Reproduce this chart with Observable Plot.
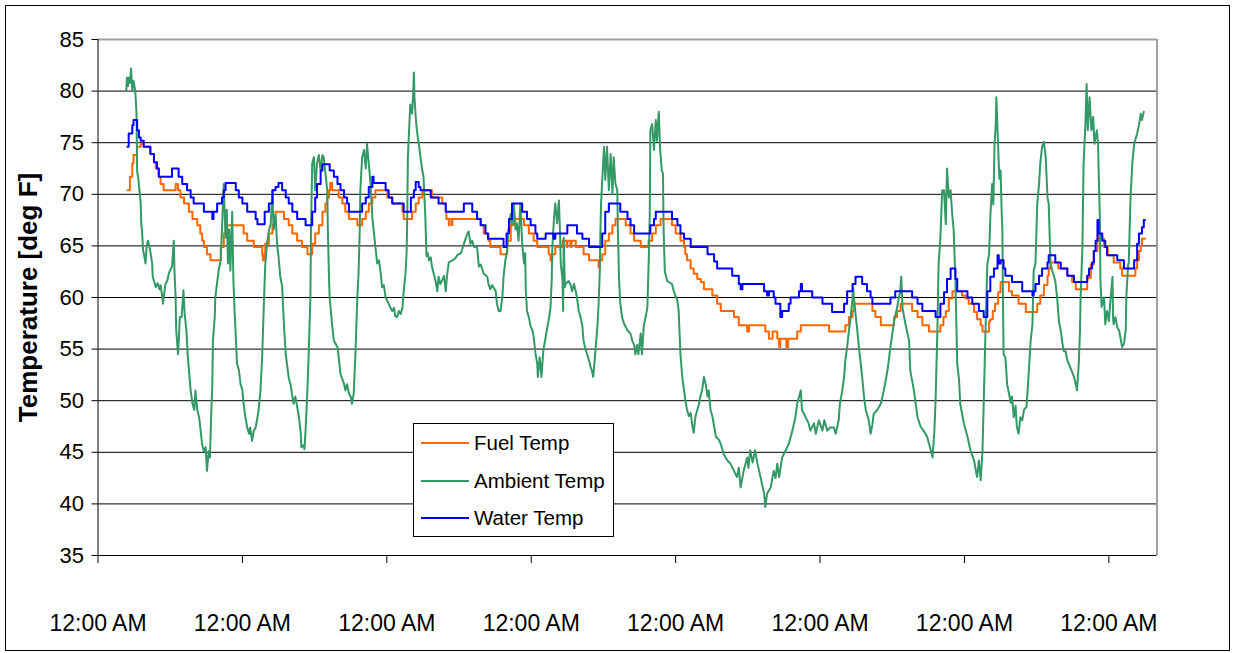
<!DOCTYPE html>
<html><head><meta charset="utf-8">
<script src="https://cdn.jsdelivr.net/npm/d3@7"></script>
<script src="https://cdn.jsdelivr.net/npm/@observablehq/plot@0.6"></script>
<style>
body{margin:0;background:#fff;font-family:"Liberation Sans",Arial,sans-serif;}
#wrap{position:relative;width:1233px;height:653px;overflow:hidden;}
#border{position:absolute;left:5px;top:5px;width:1223px;height:644px;border:1px solid #000;pointer-events:none;}
#legend{position:absolute;left:413px;top:423px;width:201px;height:114px;box-sizing:border-box;border:1px solid #000;background:#fff;}
.row{position:absolute;left:0;height:24px;line-height:24px;font-size:20.5px;color:#000;}
.sw{position:absolute;left:7px;top:11px;width:48px;height:0;border-top:2px solid;}
.lab{position:absolute;left:60px;top:0;white-space:nowrap;}
</style></head>
<body>
<div id="wrap"><div id="chart"></div><div id="legend"></div><div id="border"></div></div>
<script>
// ---- data (hours since first midnight, deg F) ----
const seriesNames = ["Fuel Temp", "Ambient Temp", "Water Temp"];
const seriesColors = ["#FF6600", "#339966", "#0000FF"];
const yTicks = [35, 40, 45, 50, 55, 60, 65, 70, 75, 80, 85];
const xTicks = [0, 24, 48, 72, 96, 120, 144, 168];
const xTickLabel = "12:00 AM";
const yLabel = "Temperature [deg F]";

const fuel = [[4.9,70.4],[5.3,71.7],[5.7,73.0],[5.9,73.8],[6.5,74.6],[7.1,74.9],[7.6,74.6],[8.7,73.9],[9.3,73.1],[9.6,72.5],[10.1,71.7],[10.4,71.0],[10.9,70.4],[12.9,71.0],[13.3,70.4],[13.7,69.7],[14.3,69.1],[15.1,68.3],[15.7,67.6],[16.5,67.0],[17.0,66.2],[17.3,65.5],[17.6,64.9],[18.1,64.2],[18.7,63.6],[20.4,64.9],[20.9,66.2],[21.2,67.0],[24.2,66.2],[24.8,65.5],[25.9,64.9],[27.3,64.2],[27.4,63.6],[27.6,64.2],[27.8,65.2],[28.4,66.2],[29.0,67.1],[29.5,68.3],[30.9,67.6],[31.7,67.0],[32.3,66.2],[33.1,65.5],[33.9,64.9],[34.8,64.2],[35.6,65.2],[36.1,66.2],[36.7,67.0],[37.3,68.3],[37.8,69.1],[38.1,69.7],[38.4,70.4],[38.6,71.1],[38.9,70.4],[40.0,69.7],[40.6,69.1],[41.1,68.3],[41.7,67.6],[43.1,67.0],[43.9,67.6],[44.5,68.3],[45.0,69.1],[45.6,69.7],[46.1,70.4],[48.1,69.7],[48.9,69.1],[50.6,68.3],[50.8,67.6],[52.2,68.3],[52.8,69.1],[53.3,69.7],[53.9,70.4],[55.5,69.7],[57.2,69.1],[57.8,68.3],[57.9,67.6],[58.3,67.0],[58.4,67.6],[58.8,67.0],[58.9,67.6],[63.6,67.0],[64.1,66.2],[64.9,65.5],[65.2,64.9],[66.9,64.2],[68.0,65.5],[68.6,67.0],[69.1,67.6],[70.8,67.0],[71.6,66.2],[72.4,65.5],[73.0,64.9],[74.9,64.2],[75.2,63.6],[75.5,64.2],[76.0,64.9],[77.2,65.5],[77.9,64.9],[78.0,65.5],[78.5,64.9],[78.7,65.5],[79.4,64.9],[80.7,64.2],[81.6,63.6],[83.2,62.9],[83.4,63.6],[83.8,64.2],[84.3,65.5],[84.9,66.2],[85.5,67.0],[86.0,67.6],[87.7,67.0],[88.5,66.2],[89.1,65.5],[90.2,64.9],[91.5,65.5],[92.1,66.2],[92.7,67.0],[93.5,67.6],[95.4,67.0],[96.0,66.2],[96.8,65.5],[97.4,64.9],[97.6,64.2],[97.9,63.6],[98.5,62.8],[99.0,62.3],[99.6,61.8],[100.2,61.5],[100.7,60.8],[102.1,60.2],[102.9,59.4],[103.5,58.7],[105.7,58.1],[106.5,57.3],[107.9,56.7],[108.2,57.3],[110.9,56.7],[111.5,56.0],[112.1,56.7],[112.9,56.0],[113.2,55.2],[113.4,56.0],[114.4,55.2],[114.7,56.0],[116.2,56.7],[116.8,57.3],[121.5,56.7],[124.2,57.3],[124.8,58.1],[125.4,58.7],[125.6,59.4],[128.7,58.7],[129.2,58.1],[130.1,57.3],[132.3,58.1],[132.8,58.7],[133.4,59.4],[135.3,58.7],[136.2,58.1],[137.0,57.3],[138.1,56.7],[140.0,57.3],[140.5,58.1],[140.9,58.7],[141.4,59.9],[142.0,60.6],[143.6,60.2],[144.2,59.9],[144.7,59.4],[145.6,58.6],[146.1,57.9],[146.7,57.3],[147.0,56.7],[148.1,57.7],[148.3,57.9],[148.7,58.7],[149.1,59.4],[149.6,60.5],[150.0,61.5],[151.4,60.6],[151.9,60.2],[153.0,59.4],[154.2,58.6],[156.1,59.4],[156.6,60.2],[157.2,61.2],[157.8,62.1],[158.0,62.8],[158.3,63.4],[159.6,62.8],[161.1,62.1],[161.9,61.5],[162.5,60.8],[164.4,61.9],[165.0,63.2],[165.5,64.5],[166.1,65.5],[166.3,66.0],[166.9,65.7],[167.2,64.9],[167.8,64.1],[168.8,63.4],[169.9,62.8],[170.2,62.1],[172.4,62.8],[172.7,63.6],[173.0,64.5],[173.3,65.0],[173.5,65.7],[174.0,65.7]];

const ambient = [[4.7,80.0],[4.8,81.3],[5.0,80.5],[5.1,81.3],[5.3,80.8],[5.5,82.2],[5.7,80.0],[5.9,81.0],[6.2,80.0],[6.4,77.8],[6.5,72.3],[6.7,71.5],[7.1,69.1],[7.2,67.0],[7.3,66.6],[7.5,64.5],[7.6,64.3],[7.9,63.3],[8.1,65.0],[8.3,65.5],[8.6,64.8],[9.0,63.3],[9.1,62.0],[9.3,61.6],[9.6,61.0],[9.9,61.4],[10.2,60.8],[10.4,61.2],[10.7,60.0],[10.8,59.4],[11.2,61.3],[11.5,61.6],[11.8,62.4],[12.3,63.0],[12.6,65.5],[12.7,62.7],[12.9,60.0],[13.0,56.8],[13.3,54.5],[13.4,55.6],[13.6,58.1],[13.9,58.1],[14.2,60.7],[14.4,58.4],[14.7,56.8],[14.9,54.5],[15.3,51.6],[15.4,51.0],[15.7,49.7],[16.0,49.1],[16.2,51.0],[16.5,49.1],[16.8,48.4],[17.0,47.4],[17.3,45.8],[17.6,45.1],[17.9,45.5],[18.1,43.2],[18.4,45.1],[18.6,44.5],[18.8,48.4],[19.0,51.6],[19.1,55.8],[19.4,58.1],[19.5,60.0],[19.8,61.5],[20.1,62.8],[20.4,63.6],[20.6,66.6],[20.9,71.0],[21.2,65.8],[21.4,68.5],[21.6,63.3],[21.8,66.6],[22.0,62.6],[22.3,68.3],[22.5,61.7],[22.7,58.7],[22.9,56.2],[23.1,53.6],[23.4,53.0],[23.7,51.6],[24.0,51.0],[24.2,49.7],[24.5,48.4],[24.8,47.4],[25.1,46.8],[25.3,47.4],[25.6,46.1],[25.9,47.1],[26.2,47.4],[26.5,48.4],[26.7,49.1],[27.0,51.0],[27.3,54.5],[27.6,60.0],[27.8,63.2],[28.1,65.2],[28.4,66.5],[28.7,67.1],[29.0,70.4],[29.1,68.0],[29.2,66.6],[29.5,68.0],[29.8,64.9],[30.0,64.0],[30.3,62.0],[30.6,61.1],[30.9,57.4],[31.2,54.5],[31.4,53.6],[31.7,52.2],[32.0,51.6],[32.3,50.4],[32.5,49.7],[32.8,50.4],[33.1,49.4],[33.4,48.4],[33.7,46.8],[33.8,45.5],[34.2,45.7],[34.3,45.3],[34.5,47.1],[34.8,51.0],[35.0,54.2],[35.3,60.0],[35.4,66.6],[35.6,73.0],[35.9,73.6],[36.1,70.4],[36.4,73.0],[36.7,73.8],[37.0,72.3],[37.3,73.8],[37.5,73.6],[37.8,72.0],[38.1,70.4],[38.2,66.6],[38.4,61.7],[38.5,60.0],[38.9,57.4],[39.2,55.8],[39.8,55.2],[40.0,54.2],[40.3,52.6],[40.9,51.6],[41.1,51.0],[41.4,51.6],[41.7,50.7],[42.0,50.4],[42.2,49.7],[42.5,50.7],[42.8,54.8],[43.1,60.0],[43.3,62.3],[43.5,66.6],[43.6,70.4],[43.9,73.6],[44.2,74.3],[44.5,72.5],[44.7,74.9],[45.0,73.0],[45.3,71.0],[45.6,67.7],[45.8,66.6],[46.1,64.9],[46.4,63.3],[46.7,63.6],[47.0,62.3],[47.2,61.0],[47.5,61.2],[47.8,60.0],[48.3,59.4],[48.6,59.0],[48.9,58.7],[49.2,59.0],[49.4,58.2],[49.7,58.1],[50.0,58.7],[50.3,58.4],[50.6,59.0],[50.8,60.6],[51.1,62.3],[51.3,64.5],[51.4,68.0],[51.5,73.6],[51.7,76.2],[51.9,78.7],[52.2,77.8],[52.4,80.0],[52.5,81.8],[52.6,79.4],[52.8,77.5],[53.0,76.2],[53.3,74.9],[53.6,73.6],[53.9,72.3],[54.1,71.7],[54.4,67.8],[54.6,64.0],[54.8,64.3],[55.0,63.6],[55.3,63.9],[55.5,63.0],[55.8,62.3],[56.1,61.6],[56.4,60.6],[56.6,62.0],[56.9,61.3],[57.5,62.1],[57.8,60.6],[58.0,62.1],[58.3,63.4],[58.9,63.6],[59.4,63.8],[59.7,64.1],[60.3,64.3],[60.5,64.6],[60.8,65.2],[61.1,65.7],[61.4,66.2],[61.6,66.4],[61.9,65.2],[62.2,65.5],[62.5,64.9],[63.0,64.9],[63.3,63.0],[63.6,63.2],[64.1,62.3],[64.7,62.0],[64.9,61.3],[65.2,60.8],[65.5,61.2],[66.1,60.6],[66.3,59.4],[66.6,58.7],[66.9,58.7],[67.2,60.0],[67.4,62.0],[67.7,63.6],[68.0,64.5],[68.2,66.5],[68.6,68.1],[68.8,67.0],[69.1,69.1],[69.4,66.6],[69.6,67.2],[69.9,65.5],[70.2,69.1],[70.5,65.2],[70.8,63.3],[71.0,64.3],[71.1,60.7],[71.3,58.7],[71.6,58.1],[71.9,57.2],[72.2,56.8],[72.4,56.2],[72.7,54.6],[73.0,53.6],[73.1,52.3],[73.4,54.2],[73.7,52.3],[74.0,54.8],[74.4,56.2],[74.7,57.2],[74.9,57.8],[75.2,59.0],[75.4,61.6],[75.5,64.8],[75.8,67.8],[76.0,69.1],[76.3,67.2],[76.6,69.4],[76.8,66.0],[76.9,63.3],[77.2,61.7],[77.3,58.7],[77.4,65.8],[77.6,61.0],[77.7,61.3],[78.2,61.6],[78.5,61.3],[78.8,60.6],[79.1,61.3],[79.4,60.6],[79.6,60.0],[79.9,58.7],[80.2,58.1],[80.5,57.2],[80.7,55.8],[81.0,55.0],[81.3,54.5],[81.6,53.9],[81.9,53.2],[82.1,52.9],[82.3,52.3],[82.5,53.6],[82.7,55.1],[83.0,57.2],[83.2,59.4],[83.4,62.6],[83.5,66.5],[83.6,69.0],[83.8,71.4],[84.1,74.6],[84.3,71.4],[84.6,74.6],[84.9,70.4],[85.2,73.9],[85.5,70.0],[85.7,73.6],[86.0,71.0],[86.3,70.4],[86.4,66.6],[86.6,61.7],[86.7,60.6],[86.8,59.4],[87.1,58.1],[87.4,57.5],[88.0,56.8],[88.5,56.5],[88.8,55.8],[89.1,55.4],[89.3,54.5],[89.6,55.4],[89.8,54.5],[90.2,56.5],[90.4,54.5],[90.7,57.2],[91.0,58.1],[91.3,59.0],[91.5,63.0],[91.7,68.0],[91.8,76.2],[92.1,76.8],[92.4,74.3],[92.7,77.2],[92.9,75.2],[93.2,78.0],[93.4,74.6],[93.6,73.0],[93.7,72.3],[93.9,72.0],[94.0,66.6],[94.2,62.5],[94.3,62.3],[94.6,61.6],[95.4,61.3],[95.7,60.6],[96.3,59.7],[96.5,58.7],[96.8,54.5],[97.1,52.3],[97.4,51.0],[97.6,50.1],[97.9,49.1],[98.2,48.5],[98.5,48.8],[98.8,47.5],[99.0,46.9],[99.3,48.5],[99.6,49.1],[99.9,49.7],[100.1,50.4],[100.4,51.0],[100.7,52.3],[101.0,51.6],[101.3,50.4],[101.5,51.0],[101.8,49.1],[102.1,48.5],[102.4,47.5],[102.7,46.5],[103.2,46.2],[103.5,45.8],[104.0,44.8],[104.6,44.2],[105.1,43.9],[105.7,43.2],[106.2,42.6],[106.5,43.5],[106.8,41.6],[107.3,43.2],[107.9,44.5],[108.1,43.5],[108.4,45.2],[108.8,44.0],[109.2,45.2],[109.6,43.9],[110.1,42.6],[110.7,41.0],[110.9,39.7],[111.2,41.0],[111.8,41.6],[112.3,43.2],[112.6,42.5],[112.9,43.9],[113.2,42.6],[113.7,44.5],[114.3,45.2],[114.8,45.8],[115.4,47.1],[115.9,48.4],[116.2,49.7],[116.8,51.0],[117.0,49.1],[117.6,48.4],[118.1,47.8],[118.4,47.1],[119.0,47.8],[119.3,46.8],[119.8,48.1],[120.4,47.1],[120.7,48.1],[121.2,47.1],[121.7,47.4],[122.3,47.4],[122.6,46.8],[123.1,48.1],[123.3,49.7],[123.7,51.0],[124.0,52.3],[124.2,53.9],[124.5,55.2],[124.8,56.8],[125.1,58.1],[125.4,60.0],[125.5,61.0],[125.6,60.2],[125.9,58.4],[126.2,56.8],[126.4,55.5],[126.7,53.9],[127.0,52.3],[127.3,50.4],[127.6,49.1],[128.1,48.1],[128.4,46.8],[128.7,47.7],[128.9,48.7],[129.5,49.1],[130.1,49.7],[130.6,51.0],[131.2,52.9],[131.7,55.2],[132.3,57.7],[132.8,59.0],[133.1,60.0],[133.3,60.5],[133.5,62.0],[133.7,59.0],[134.2,57.4],[134.8,55.8],[135.0,52.9],[135.6,51.0],[136.2,48.4],[136.7,47.5],[137.2,47.1],[137.8,46.5],[138.4,45.2],[138.7,44.5],[139.0,47.1],[139.2,50.0],[139.5,56.8],[139.7,63.2],[140.0,65.8],[140.3,70.4],[140.6,70.4],[140.9,67.1],[141.1,72.5],[141.4,69.7],[141.7,70.4],[142.0,67.8],[142.2,66.6],[142.5,61.7],[142.8,53.6],[143.1,52.0],[143.3,49.7],[143.9,47.8],[144.5,46.5],[145.0,45.2],[145.6,44.2],[145.8,43.5],[146.1,42.6],[146.4,44.2],[146.7,42.3],[147.0,45.2],[147.2,49.7],[147.5,56.8],[147.8,63.2],[148.1,64.2],[148.3,67.8],[148.6,71.0],[148.8,69.0],[149.0,74.9],[149.2,76.8],[149.3,79.4],[149.5,76.2],[149.7,73.0],[149.8,71.5],[150.0,72.3],[150.2,68.0],[150.3,66.6],[150.4,60.0],[150.5,54.5],[150.8,54.2],[151.1,51.6],[151.4,50.7],[151.7,49.8],[151.9,50.4],[152.2,48.4],[152.5,49.5],[152.7,47.5],[153.0,46.8],[153.3,48.4],[153.6,48.1],[153.9,49.1],[154.3,49.4],[154.5,51.0],[154.7,52.9],[155.0,55.8],[155.3,57.4],[155.5,62.6],[155.8,63.3],[156.1,69.1],[156.4,71.0],[156.6,73.0],[156.9,74.6],[157.2,75.1],[157.5,73.6],[157.6,72.3],[157.8,69.7],[158.0,69.1],[158.3,63.3],[158.6,62.6],[159.1,61.6],[159.4,60.0],[159.7,57.7],[160.0,56.8],[160.3,55.5],[160.5,54.8],[160.8,54.8],[161.1,53.9],[161.6,53.2],[162.2,52.3],[162.5,51.6],[162.7,51.0],[163.0,53.6],[163.2,56.8],[163.3,60.0],[163.6,64.8],[163.8,73.0],[164.1,76.8],[164.3,80.7],[164.5,76.2],[164.8,79.4],[165.1,76.2],[165.4,77.5],[165.6,74.9],[166.0,76.2],[166.2,74.9],[166.3,72.3],[166.5,67.8],[166.6,61.7],[166.8,59.1],[167.2,60.0],[167.4,57.4],[167.7,58.7],[168.0,57.7],[168.3,60.0],[168.6,62.0],[168.7,58.0],[168.8,57.4],[169.1,58.1],[169.4,57.1],[169.7,56.8],[169.9,56.2],[170.2,55.2],[170.5,55.5],[170.8,56.8],[170.9,60.0],[171.2,63.2],[171.3,63.3],[171.6,69.7],[171.9,73.0],[172.2,74.9],[172.7,75.9],[173.0,76.7],[173.3,77.8],[173.5,77.2],[173.8,78.0]];

const water = [[4.9,74.6],[5.1,75.9],[5.7,76.7],[5.9,77.2],[6.5,76.2],[6.8,75.5],[7.1,75.2],[7.6,74.6],[8.7,73.9],[9.3,73.1],[9.8,72.5],[10.1,71.7],[12.3,72.5],[13.4,71.7],[14.0,71.0],[14.8,70.4],[15.4,69.7],[15.9,69.1],[17.6,68.3],[19.0,67.6],[19.2,68.3],[19.8,69.1],[20.6,69.7],[20.9,70.4],[21.2,71.1],[22.9,70.4],[23.4,69.7],[24.0,69.1],[24.8,68.3],[26.2,67.6],[26.5,67.1],[27.7,68.3],[28.4,69.1],[29.0,70.4],[29.5,70.7],[30.0,71.1],[30.6,70.4],[31.2,69.7],[31.7,69.1],[32.3,68.3],[33.1,67.6],[34.5,67.0],[35.6,68.3],[36.1,69.7],[36.4,71.0],[37.0,72.3],[37.3,72.9],[38.5,72.3],[39.2,71.7],[39.8,71.0],[40.3,70.4],[40.9,69.7],[41.4,69.1],[41.7,68.3],[43.9,69.1],[44.5,69.7],[45.0,70.7],[45.6,71.7],[45.8,71.1],[47.8,70.4],[48.3,69.7],[48.9,69.1],[50.8,68.3],[52.0,69.7],[52.5,70.4],[52.8,71.2],[53.3,70.7],[53.6,70.4],[55.3,69.7],[56.6,69.1],[57.8,68.3],[60.8,69.1],[62.2,68.3],[63.0,67.6],[63.6,67.0],[64.4,66.2],[64.8,65.7],[67.4,64.9],[67.9,66.2],[68.3,67.6],[68.8,69.1],[70.5,68.3],[71.3,67.6],[71.9,67.0],[72.7,66.2],[73.0,65.7],[74.4,66.2],[75.7,65.7],[76.0,66.2],[78.0,67.0],[79.6,66.2],[80.5,65.7],[81.6,64.9],[83.8,66.2],[84.3,68.3],[84.9,69.1],[86.8,68.3],[88.0,67.6],[88.5,67.0],[89.1,66.2],[91.8,67.0],[92.4,67.6],[92.7,68.3],[95.4,67.6],[96.3,67.0],[96.8,66.2],[97.4,65.7],[98.5,64.9],[101.3,64.2],[102.4,63.5],[102.9,62.8],[105.4,62.1],[106.5,61.3],[106.8,60.8],[107.1,61.3],[110.7,60.6],[111.2,60.2],[111.5,60.6],[112.3,60.0],[112.6,59.4],[113.4,58.1],[113.7,58.7],[114.8,59.4],[115.1,60.0],[116.5,60.6],[116.8,61.3],[117.0,60.6],[118.7,60.0],[120.4,59.4],[122.0,58.6],[124.0,59.4],[124.5,60.6],[125.4,61.3],[125.9,62.0],[127.0,61.3],[127.8,60.6],[128.4,60.0],[128.7,59.4],[131.7,60.0],[132.5,60.6],[135.3,60.0],[136.2,59.4],[137.0,58.7],[139.2,58.1],[140.0,59.4],[140.6,60.5],[141.1,61.8],[141.7,62.8],[142.5,61.8],[142.8,60.6],[144.5,60.0],[145.3,59.4],[146.4,58.7],[147.2,58.1],[147.8,60.6],[148.3,62.0],[148.9,62.8],[149.5,64.1],[149.7,63.3],[150.0,63.6],[150.5,62.8],[150.8,62.1],[151.9,61.5],[153.6,60.6],[155.3,60.2],[155.5,60.6],[155.8,61.3],[156.4,62.1],[156.9,62.8],[157.8,63.4],[158.0,64.1],[159.1,63.4],[160.0,62.8],[161.1,62.1],[162.2,61.5],[164.4,62.1],[164.7,62.8],[165.2,63.4],[165.5,64.5],[165.8,65.5],[166.1,67.5],[166.3,66.2],[166.9,65.5],[167.4,64.9],[167.7,64.1],[169.4,63.6],[170.5,62.8],[172.2,63.6],[172.7,65.2],[173.0,66.2],[173.5,66.8],[173.8,67.5],[174.0,67.5]];

const toRows = arr => arr.map(([h, v]) => ({h, v}));

const FONT = "'Liberation Sans', Arial, sans-serif";
const chart = Plot.plot({
  width: 1233, height: 653,
  marginLeft: 97.5, marginRight: 76.5, marginTop: 39, marginBottom: 98,
  style: {fontFamily: FONT, fontSize: "22px", color: "#000", background: "transparent", overflow: "visible"},
  x: {domain: [0, 176], label: null},
  y: {domain: [35, 85], label: null},
  marks: [
    Plot.ruleY(yTicks.filter(d => d > 35 && d < 85), {stroke: "#000", strokeWidth: 1}),
    Plot.ruleY([85], {stroke: "#a0a0a0", strokeWidth: 2}),
    Plot.ruleX([176], {stroke: "#a0a0a0", strokeWidth: 2}),
    Plot.ruleX([0], {stroke: "#000", strokeWidth: 1}),
    Plot.ruleY([35], {stroke: "#000", strokeWidth: 1}),
    Plot.axisY({ticks: yTicks, tickSize: 6, tickPadding: 8, label: null, stroke: "#000"}),
    Plot.axisX({ticks: xTicks, tickFormat: () => xTickLabel, tickSize: 8, tickPadding: 51, label: null, stroke: "#000", fontSize: 23}),
    Plot.text([yLabel], {frameAnchor: "left", dx: -69.5, rotate: -90, textAnchor: "middle", lineAnchor: "middle", fontWeight: "bold", fontSize: 26, fill: "#000"}),
    Plot.line(toRows(fuel), {x: "h", y: "v", stroke: seriesColors[0], strokeWidth: 2, curve: "step-after"}),
    Plot.line(toRows(ambient), {x: "h", y: "v", stroke: seriesColors[1], strokeWidth: 2}),
    Plot.line(toRows(water), {x: "h", y: "v", stroke: seriesColors[2], strokeWidth: 2, curve: "step-after"})
  ]
});
document.getElementById("chart").appendChild(chart);

// legend
const leg = document.getElementById("legend");
const rowY = [19, 57, 94];
seriesNames.forEach((name, i) => {
  const r = document.createElement("div");
  r.className = "row";
  r.style.top = (rowY[i] - 12) + "px";
  r.style.width = "199px";
  const sw = document.createElement("div");
  sw.className = "sw";
  sw.style.borderTopColor = seriesColors[i];
  const lab = document.createElement("div");
  lab.className = "lab";
  lab.textContent = name;
  r.appendChild(sw); r.appendChild(lab);
  leg.appendChild(r);
});
</script>
</body></html>
